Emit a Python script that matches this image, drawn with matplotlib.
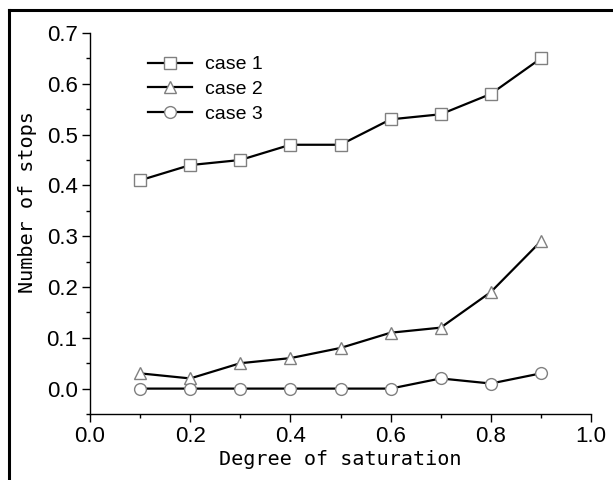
import matplotlib
matplotlib.use("Agg")
import matplotlib.pyplot as plt
from matplotlib.lines import Line2D
from matplotlib.ticker import MultipleLocator

saturation = [0.1, 0.2, 0.3, 0.4, 0.5, 0.6, 0.7, 0.8, 0.9]
case1 = [0.41, 0.44, 0.45, 0.48, 0.48, 0.53, 0.54, 0.58, 0.65]
case2 = [0.03, 0.02, 0.05, 0.06, 0.08, 0.11, 0.12, 0.19, 0.29]
case3 = [0.00, 0.00, 0.00, 0.00, 0.00, 0.00, 0.02, 0.01, 0.03]
labels = ["case 1", "case 2", "case 3"]


def main():
    plt.rcParams["font.family"] = ["Liberation Sans", "DejaVu Sans"]
    fig = plt.figure(figsize=(6.13, 4.80), dpi=100)
    ax = fig.add_axes([90 / 613, 66 / 480, 501 / 613, 381 / 480])

    style = dict(color="black", lw=1.6, markersize=8.5, markerfacecolor="white",
                 markeredgecolor="#808080", markeredgewidth=1.0)
    for ys, m, lab in zip([case1, case2, case3], ["s", "^", "o"], labels):
        ax.plot(saturation, ys, marker=m, label=lab, **style)

    ax.set_xlim(0, 1.0)
    ax.set_ylim(-0.05, 0.7)
    ax.xaxis.set_major_locator(MultipleLocator(0.2))
    ax.xaxis.set_minor_locator(MultipleLocator(0.1))
    ax.yaxis.set_major_locator(MultipleLocator(0.1))
    ax.yaxis.set_minor_locator(MultipleLocator(0.05))
    ax.set_xticks([0.0, 0.2, 0.4, 0.6, 0.8, 1.0])
    ax.set_xticklabels(["0.0", "0.2", "0.4", "0.6", "0.8", "1.0"])
    ax.set_yticks([0.0, 0.1, 0.2, 0.3, 0.4, 0.5, 0.6, 0.7])
    ax.set_yticklabels(["0.0", "0.1", "0.2", "0.3", "0.4", "0.5", "0.6", "0.7"])
    ax.tick_params(which="major", direction="out", length=6, width=1.0,
                   labelsize=16, pad=3)
    ax.tick_params(which="minor", direction="out", length=3, width=1.0)

    for s in ("top", "right"):
        ax.spines[s].set_visible(False)
    for s in ("left", "bottom"):
        ax.spines[s].set_linewidth(1.0)

    ax.set_xlabel("Degree of saturation", family="DejaVu Sans Mono",
                  fontsize=14.5, labelpad=2)
    ax.set_ylabel("Number of stops", family="DejaVu Sans Mono",
                  fontsize=14.5, labelpad=7)
    ax.yaxis.label.set_y(0.556)

    ax.legend(loc="upper left", bbox_to_anchor=(0.116, 0.94), frameon=False,
              fontsize=14, handlelength=2.27, handletextpad=0.65,
              labelspacing=0.37, borderpad=0, borderaxespad=0)

    # border lines of the cropped scan (left and top edges)
    fig.add_artist(Line2D([9 / 613, 9 / 613], [0, 1 - 10 / 480],
                          transform=fig.transFigure, color="black", lw=2.2))
    fig.add_artist(Line2D([9 / 613, 1], [1 - 10 / 480, 1 - 10 / 480],
                          transform=fig.transFigure, color="black", lw=2.2))

    fig.savefig("out.png", dpi=100)
    plt.close(fig)


if __name__ == "__main__":
    main()
